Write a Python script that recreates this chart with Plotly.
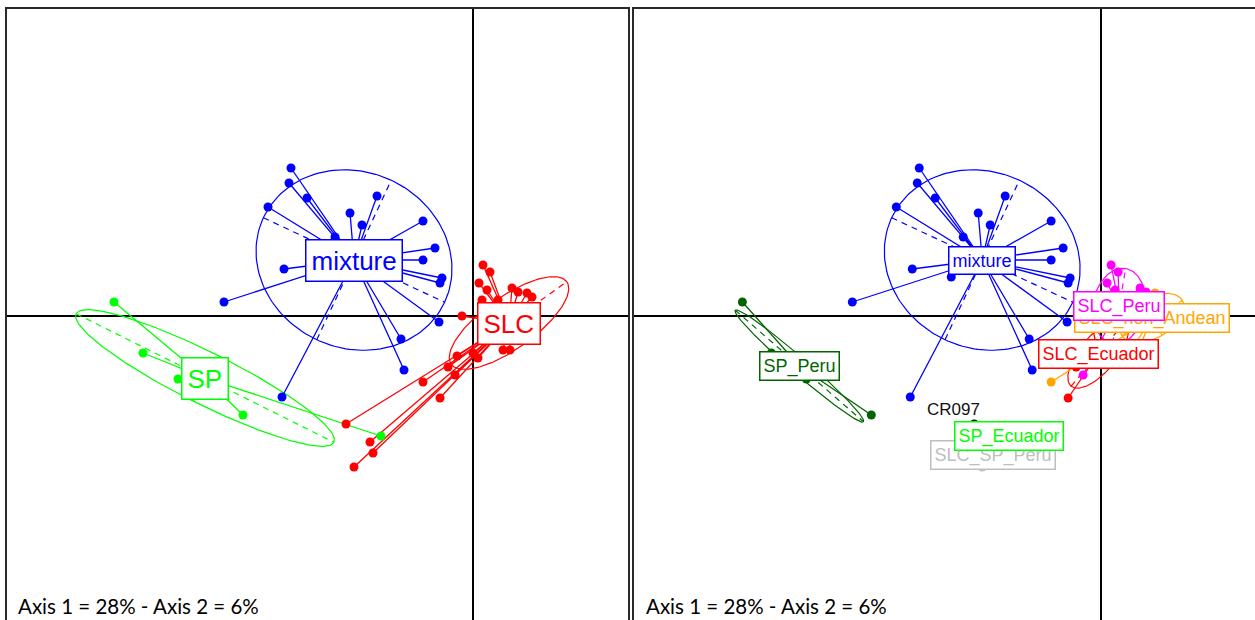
import numpy as np
import plotly.graph_objects as go

# ---------------- data: sample scores on axis 1 / axis 2 ----------------
sample_x = [
    -1.82, -1.84, -1.66, -2.05, -1.23, -0.96, -1.11, -0.50, -0.38, -0.50,
    -1.89, -0.31, -0.33, -2.49, -0.34, -0.72, -0.69, -1.91, -1.38, -1.50,
    -3.59, -3.30, -2.95, -2.30, -0.92,
    0.10, 0.17, 0.06, 0.14, 0.39, 0.45, 0.59, 0.54, 0.09, 0.25,
    -0.11, -0.16, -0.25, -0.18, -0.50, -0.33, -1.27, -1.03, -1.00, -1.19,
    0.00, 0.30, 0.05, 0.37,
]
sample_y = [
    1.48, 1.33, 1.18, 1.09, 1.03, 1.20, 0.91, 0.95, 0.68, 0.56,
    0.47, 0.38, 0.33, 0.14, -0.06, -0.23, -0.54, -0.81, 0.79, 0.39,
    0.14, -0.37, -0.63, -0.99, -1.20,
    0.51, 0.44, 0.33, 0.26, 0.28, 0.24, 0.19, 0.23, 0.16, 0.16,
    0.00, -0.40, -0.51, -0.59, -0.66, -0.82, -1.08, -1.26, -1.37, -1.51,
    -0.37, -0.34, -0.42, -0.34,
]
group_main = (["mixture"] * 20 + ["SP"] * 5 + ["SLC"] * 24)
group_origin = (
    ["mixture"] * 20
    + ["SP_Peru"] * 4 + ["SP_Ecuador"]
    + ["SLC_Peru", "SLC_Peru", "SLC_Peru", "SLC_Peru", "SLC_Peru",
       "SLC_Peru", "SLC_non_Andean", "SLC_non_Andean", "SLC_Peru", "SLC_Peru",
       "SLC_Ecuador", "SLC_Ecuador", "SLC_Ecuador", "SLC_Peru", "SLC_non_Andean",
       "SLC_Ecuador", "CR097", "SLC_SP_Peru", "SLC_SP_Peru", "SLC_SP_Peru",
       "SLC_Ecuador", "SLC_non_Andean", "SLC_Ecuador", "SLC_non_Andean"]
)

# ---------------- groups of the left panel ----------------
main_names = ["mixture", "SP", "SLC"]
main_cx = [-1.19, -2.68, 0.36]
main_cy = [0.56, -0.62, -0.07]
main_ell_a = [1.00, 1.44, 0.71]
main_ell_b = [0.88, 0.26, 0.26]
main_ell_angle = [-25, -26.5, 35.5]

# ---------------- groups of the right panel ----------------
origin_names = ["mixture", "SP_Peru", "SP_Ecuador", "SLC_SP_Peru",
                "SLC_Peru", "SLC_non_Andean", "SLC_Ecuador", "CR097"]
origin_cx = [-1.19, -3.02, -0.92, -1.08, 0.18, 0.51, -0.03, -1.27]
origin_cy = [0.56, -0.50, -1.20, -1.39, 0.10, -0.02, -0.38, -1.08]
origin_ell_a = [1.00, 0.85, 0.0, 0.17, 0.38, 0.35, 0.42, 0.0]
origin_ell_b = [0.88, 0.08, 0.0, 0.06, 0.26, 0.20, 0.18, 0.0]
origin_ell_angle = [-25, -41, 0, 55, 80, 30, 50, 0]

note_text = ["CR097"]
note_x = [-1.48]
note_y = [-0.93]

inertia_text = "Axis 1 = 28% - Axis 2 = 6%"

# ---------------- styles ----------------
main_colors = {"mixture": "#0000FF", "SP": "#00FF00", "SLC": "#FF0000"}
origin_colors = {"mixture": "#0000FF", "SP_Peru": "#006400", "SP_Ecuador": "#00FF00",
                 "SLC_SP_Peru": "#BEBEBE", "SLC_Peru": "#FF00FF",
                 "SLC_non_Andean": "#FFA500", "SLC_Ecuador": "#FF0000", "CR097": "#000000"}
# drawing order of labels in right panel (later = on top)
origin_label_order = ["SLC_SP_Peru", "SP_Ecuador", "SLC_non_Andean", "SLC_Peru",
                      "SLC_Ecuador", "mixture", "SP_Peru"]
LABEL_FONT = "Liberation Sans, Arial, sans-serif"

W, H = 1255, 620

fig = go.Figure()


def ellipse_xy(cx, cy, a, b, ang):
    t = np.linspace(0, 2 * np.pi, 160)
    th = np.radians(ang)
    x = cx + a * np.cos(t) * np.cos(th) - b * np.sin(t) * np.sin(th)
    y = cy + a * np.cos(t) * np.sin(th) + b * np.sin(t) * np.cos(th)
    return x, y


def add_panel(names, cx, cy, ea, eb, eang, groups, colors, xa, ya):
    sx = np.array(sample_x)
    sy = np.array(sample_y)
    g = np.array(groups)
    # ellipses + dashed axes
    for i, n in enumerate(names):
        if ea[i] <= 0:
            continue
        col = colors[n]
        ex, ey = ellipse_xy(cx[i], cy[i], ea[i], eb[i], eang[i])
        fig.add_trace(go.Scatter(x=ex, y=ey, mode="lines", xaxis=xa, yaxis=ya,
                                 line=dict(color=col, width=1.2), hoverinfo="skip",
                                 showlegend=False))
        th = np.radians(eang[i])
        ax = [cx[i] - ea[i] * np.cos(th), cx[i] + ea[i] * np.cos(th), None,
              cx[i] + eb[i] * np.sin(th), cx[i] - eb[i] * np.sin(th)]
        ay = [cy[i] - ea[i] * np.sin(th), cy[i] + ea[i] * np.sin(th), None,
              cy[i] - eb[i] * np.cos(th), cy[i] + eb[i] * np.cos(th)]
        fig.add_trace(go.Scatter(x=ax, y=ay, mode="lines", xaxis=xa, yaxis=ya,
                                 line=dict(color=col, width=1.2, dash="6px,5px"),
                                 hoverinfo="skip", showlegend=False))
    # stars
    for i, n in enumerate(names):
        col = colors[n]
        m = g == n
        lx, ly = [], []
        for px, py in zip(sx[m], sy[m]):
            lx += [px, cx[i], None]
            ly += [py, cy[i], None]
        fig.add_trace(go.Scatter(x=lx, y=ly, mode="lines", xaxis=xa, yaxis=ya,
                                 line=dict(color=col, width=1.3), hoverinfo="skip",
                                 showlegend=False))
    # points
    for i, n in enumerate(names):
        col = colors[n]
        m = g == n
        fig.add_trace(go.Scatter(x=sx[m], y=sy[m], mode="markers", xaxis=xa, yaxis=ya,
                                 marker=dict(color=col, size=9, line=dict(width=0)),
                                 showlegend=False, name=n))


add_panel(main_names, main_cx, main_cy, main_ell_a, main_ell_b, main_ell_angle,
          group_main, main_colors, "x", "y")
add_panel(origin_names, origin_cx, origin_cy, origin_ell_a, origin_ell_b, origin_ell_angle,
          group_origin, origin_colors, "x2", "y2")

annotations = []
for i, n in enumerate(main_names):
    col = main_colors[n]
    annotations.append(dict(x=main_cx[i], y=main_cy[i], xref="x", yref="y", text=n,
                            showarrow=False, font=dict(family=LABEL_FONT, size=26, color=col),
                            bgcolor="white", bordercolor=col, borderwidth=1.5, borderpad=5))
for n in origin_label_order:
    i = origin_names.index(n)
    col = origin_colors[n]
    annotations.append(dict(x=origin_cx[i], y=origin_cy[i], xref="x2", yref="y2", text=n,
                            showarrow=False, font=dict(family=LABEL_FONT, size=18, color=col),
                            bgcolor="white", bordercolor=col, borderwidth=1.5, borderpad=3))
for t, x, y in zip(note_text, note_x, note_y):
    annotations.append(dict(x=x, y=y, xref="x2", yref="y2", text=t, showarrow=False,
                            font=dict(family=LABEL_FONT, size=17, color="#111111")))
for xp in [16 / W, 644 / W]:
    annotations.append(dict(x=xp, y=0, xref="paper", yref="paper", text=inertia_text,
                            xanchor="left", yanchor="bottom", showarrow=False,
                            font=dict(family="Lato, Open Sans, sans-serif", size=20.5, color="#000000")))

# axis geometry (100 px per unit)
x_left_range = [-4.66, 1.545]
x_right_range = [-4.68, 1.54]
y_range = [-3.04, 3.075]
top_frac = 1 - 8.5 / H

common = dict(showgrid=False, showticklabels=False, ticks="", zeroline=True,
              zerolinecolor="#000000", zerolinewidth=1.5, showline=True,
              linecolor="#2a2a2a", linewidth=2, fixedrange=True)

fig.update_layout(
    width=W, height=H,
    margin=dict(l=0, r=0, t=0, b=0),
    paper_bgcolor="white", plot_bgcolor="white",
    showlegend=False,
    xaxis=dict(domain=[7 / W, 627.5 / W], range=x_left_range, side="top",
               anchor="y", **common),
    yaxis=dict(domain=[0, top_frac], range=y_range, mirror=True, anchor="x", **common),
    xaxis2=dict(domain=[633.5 / W, 1.0], range=x_right_range, side="top",
                anchor="y2", **common),
    yaxis2=dict(domain=[0, top_frac], range=y_range, anchor="x2", **common),
    annotations=annotations,
)

fig.write_html("out.html", config={"displayModeBar": False},
               post_script="document.body.style.margin='0';document.body.style.overflow='hidden';")
